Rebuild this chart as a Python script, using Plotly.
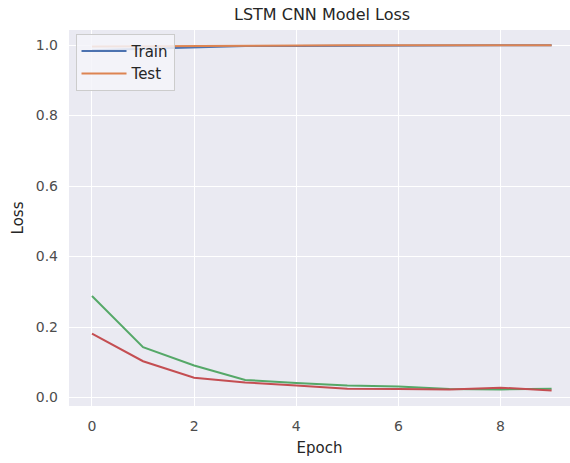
import plotly.graph_objects as go

epochs = list(range(10))
train = [0.985, 0.989, 0.994, 0.997, 0.997, 0.998, 0.998, 0.999, 0.999, 0.999]
test = [0.996, 0.997, 0.998, 0.998, 0.998, 0.999, 0.999, 0.999, 0.999, 0.999]
train_loss = [0.288, 0.143, 0.091, 0.050, 0.041, 0.034, 0.031, 0.024, 0.023, 0.025]
test_loss = [0.181, 0.103, 0.056, 0.043, 0.034, 0.025, 0.024, 0.023, 0.028, 0.020]

font = "DejaVu Sans"
fig = go.Figure()
fig.add_trace(go.Scatter(x=epochs, y=train, mode="lines", name="Train",
                         line=dict(color="#4C72B0", width=2)))
fig.add_trace(go.Scatter(x=epochs, y=test, mode="lines", name="Test",
                         line=dict(color="#DD8452", width=2)))
fig.add_trace(go.Scatter(x=epochs, y=train_loss, mode="lines", showlegend=False,
                         line=dict(color="#55A868", width=2)))
fig.add_trace(go.Scatter(x=epochs, y=test_loss, mode="lines", showlegend=False,
                         line=dict(color="#C44E52", width=2)))

fig.update_layout(
    width=570, height=463,
    margin=dict(l=69, r=0, t=30, b=57),
    paper_bgcolor="white", plot_bgcolor="#EAEAF2",
    font=dict(family=font, size=14, color="#262626"),
    title=dict(text="LSTM CNN Model Loss", x=0.565, xanchor="center",
               y=1 - 14/463, yanchor="middle", font=dict(size=16, color="#262626")),
    xaxis=dict(range=[-0.45, 9.36], tickvals=[0, 2, 4, 6, 8], showgrid=True,
               gridcolor="white", gridwidth=1.3, zeroline=False, showline=False,
               ticks="", ticklabelstandoff=10,
               title=dict(text="Epoch", font=dict(size=15), standoff=9),
               tickfont=dict(size=14, color="#4d4d4d")),
    yaxis=dict(range=[-0.024, 1.0426], tickvals=[0, 0.2, 0.4, 0.6, 0.8, 1.0],
               tickformat=".1f", showgrid=True, gridcolor="white", gridwidth=1.3,
               zeroline=False, showline=False, ticks="", ticklabelstandoff=10,
               title=dict(text="Loss", font=dict(size=15), standoff=8),
               tickfont=dict(size=14, color="#4d4d4d")),
    legend=dict(x=0.013, y=0.99, xanchor="left", yanchor="top",
                bgcolor="rgba(245,245,250,0.85)", bordercolor="#CCCCCC", borderwidth=1,
                font=dict(size=15, color="#262626"), itemwidth=45, tracegroupgap=0),
)
fig.write_html("out.html")
